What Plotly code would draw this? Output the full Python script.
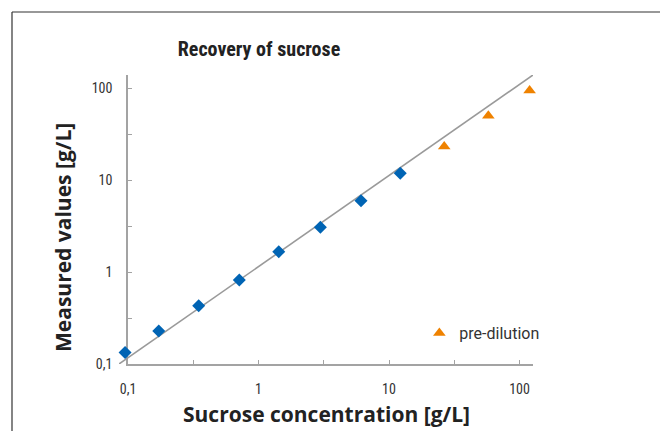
import plotly.graph_objects as go

# ---- data ----
conc = [0.095, 0.172, 0.348, 0.713, 1.43, 2.98, 6.1, 12.2]
measured = [0.133, 0.229, 0.431, 0.82, 1.67, 3.07, 5.98, 11.9]
pre_conc = [26.5, 57.7, 119.5]
pre_measured = [23.2, 50.4, 94.9]
line_x = [0.0853, 126.9]
line_y = [0.1, 139.6]
tick_vals = [0.1, 0.316, 1, 3.16, 10, 31.6, 100]
tick_text = ["0,1", "", "1", "", "10", "", "100"]

# page body has an 8px margin -> figure coordinates = reference pixels - 8
OFF = 8
W, H = 668 - OFF, 431 - OFF
L, R, T, B = 119 - OFF, 135, 75 - OFF, 67
PW = W - L - R
PH = H - T - B
axis_start = 9 / PW
X_DEC = 130.5
Y_DEC = 91.9
x_top = -1 + (PW - 9) / X_DEC

AXIS_GRAY = "#a3a3a3"
TICK_FONT = dict(family="Roboto Condensed, Roboto, Arial", size=14, color="#333333")
NARROW_BOLD = "Roboto Condensed, Arial Narrow, Arial"
WIDE_BOLD = "Open Sans, Roboto, Arial"


def px_x(px):
    return (px - OFF - L) / PW


def px_y(py):
    return (H - B - (py - OFF)) / PH


fig = go.Figure()

# reference line and diamonds on a hidden x axis that starts a little left of the visible one
fig.add_trace(go.Scatter(
    x=line_x, y=line_y, xaxis="x2", yaxis="y", mode="lines",
    line=dict(color="#9a9a9a", width=1.6), showlegend=False, hoverinfo="skip"))

fig.add_trace(go.Scatter(
    x=conc, y=measured, xaxis="x2", yaxis="y", mode="markers", cliponaxis=False,
    marker=dict(symbol="diamond", size=10, color="#0064b4"),
    showlegend=False))

fig.add_trace(go.Scatter(
    x=pre_conc, y=pre_measured, xaxis="x", yaxis="y", mode="markers", cliponaxis=False,
    name="pre-dilution",
    marker=dict(symbol="triangle-up", size=11, color="#ef8200"),
    showlegend=True))

axis_common = dict(
    type="log", tickmode="array", tickvals=tick_vals, ticktext=tick_text,
    showgrid=False, zeroline=False, showline=True, linecolor=AXIS_GRAY, linewidth=1.5,
    ticks="inside", ticklen=4, tickwidth=1.2, tickcolor=AXIS_GRAY, tickfont=TICK_FONT,
)

fig.update_layout(
    width=W, height=H,
    margin=dict(l=L, r=R, t=T, b=B, autoexpand=False),
    paper_bgcolor="white", plot_bgcolor="rgba(0,0,0,0)",
    xaxis=dict(axis_common, domain=[axis_start, 1], range=[-1, x_top],
               anchor="y", ticklabelstandoff=11),
    yaxis=dict(axis_common, range=[-1, -1 + PH / Y_DEC], anchor="x", ticklabelstandoff=11),
    xaxis2=dict(type="log", domain=[0, 1], range=[-1 - 9 / X_DEC, x_top],
                visible=False, anchor="y"),
    showlegend=True,
    legend=dict(x=0.7255, y=px_y(316), xanchor="left", yanchor="top", bgcolor="rgba(0,0,0,0)",
                font=dict(family="Roboto, Open Sans, Arial", size=16, color="#333333"),
                itemwidth=30, tracegroupgap=0),
    title=dict(text="<b>Recovery of sucrose</b>", x=(259 - OFF) / W, xref="container",
               xanchor="center", y=1 - (49 - OFF) / H, yref="container", yanchor="middle",
               font=dict(family=NARROW_BOLD, size=20, color="#222222")),
    annotations=[
        dict(text="<b>Sucrose concentration [g/L]</b>", xref="paper", yref="paper",
             x=px_x(326), y=px_y(414), xanchor="center", yanchor="middle",
             showarrow=False, font=dict(family=WIDE_BOLD, size=21, color="#222222")),
        dict(text="<b>Measured values [g/L]</b>", xref="paper", yref="paper",
             x=px_x(63), y=px_y(238), xanchor="center", yanchor="middle",
             textangle=-90, showarrow=False,
             font=dict(family=WIDE_BOLD, size=21, color="#222222")),
    ],
    shapes=[
        dict(type="line", xref="paper", yref="paper",
             x0=px_x(12), x1=px_x(680), y0=px_y(12), y1=px_y(12),
             line=dict(color="#333333", width=1.2)),
        dict(type="line", xref="paper", yref="paper",
             x0=px_x(12), x1=px_x(12), y0=px_y(12), y1=px_y(445),
             line=dict(color="#333333", width=1.2)),
    ],
)

fig.write_html("out.html")
